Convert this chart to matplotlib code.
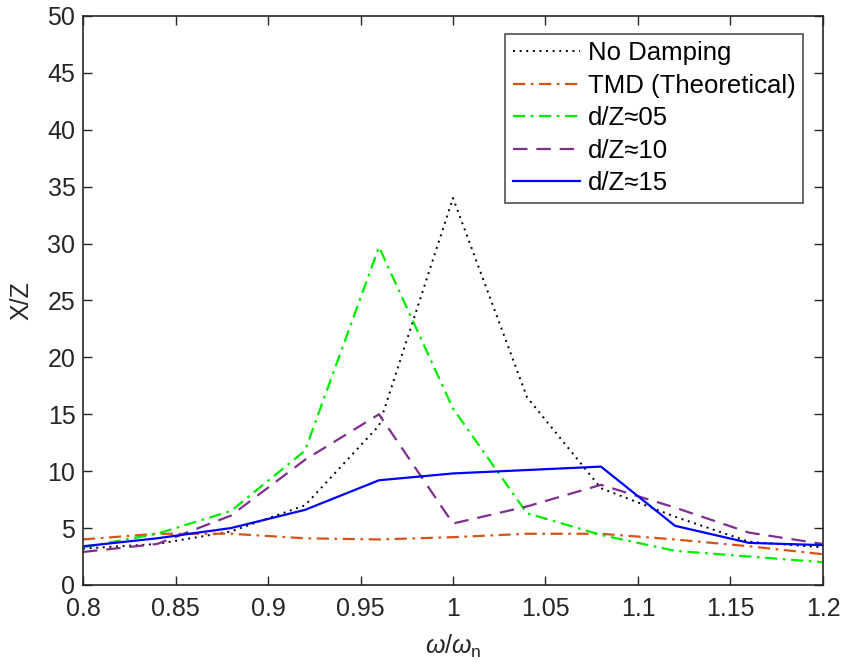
import numpy as np
import matplotlib
matplotlib.use("Agg")
import matplotlib.pyplot as plt

plt.rcParams['font.family'] = ['Liberation Sans', 'DejaVu Sans']
plt.rcParams['mathtext.fontset'] = 'custom'
plt.rcParams['mathtext.it'] = 'Liberation Sans:italic'
plt.rcParams['mathtext.rm'] = 'Liberation Sans'

# frequency ratio w/wn
razao = [0.80, 0.84, 0.88, 0.92, 0.96, 1.00, 1.04, 1.08, 1.12, 1.16, 1.20]

# amplitude ratio X/Z for each case
sem_amortecimento = [3.2, 3.6, 4.7, 7.0, 14.0, 34.0, 16.5, 8.5, 6.0, 3.8, 3.3]
tmd_teorico = [4.0, 4.5, 4.5, 4.1, 4.0, 4.2, 4.5, 4.5, 4.0, 3.4, 2.7]
dz_05 = [3.3, 4.5, 6.5, 11.8, 29.7, 15.5, 6.3, 4.4, 3.0, 2.5, 2.0]
dz_10 = [2.9, 3.6, 6.1, 11.0, 15.0, 5.4, 6.9, 8.8, 6.8, 4.6, 3.6]
dz_15 = [3.4, 4.1, 5.0, 6.6, 9.2, 9.8, 10.1, 10.4, 5.2, 3.7, 3.5]

cinza = '#262626'
fs = 18

fig = plt.figure(figsize=(8.42, 6.68), dpi=100)
ax = fig.add_axes([0.0986, 0.1243, 0.8788, 0.8518])

ax.plot(razao, sem_amortecimento, color='black', linestyle=(0, (1, 2.4)), lw=1.4,
        label='No Damping')
ax.plot(razao, tmd_teorico, color='#D95319', linestyle=(0, (5.5, 2.5, 1.2, 2.5)), lw=1.6,
        label='TMD (Theoretical)')
ax.plot(razao, dz_05, color='#00EE00', linestyle=(0, (5.5, 2.5, 1.2, 2.5)), lw=1.6,
        label='d/Z≈05')
ax.plot(razao, dz_10, color='#7E2F8E', linestyle=(0, (6.5, 4)), lw=1.6,
        label='d/Z≈10')
ax.plot(razao, dz_15, color='#0000FF', linestyle='-', lw=1.6,
        label='d/Z≈15')

ax.set_xlim(0.8, 1.2)
ax.set_ylim(0, 50)
ax.set_xticks(np.arange(0.8, 1.2001, 0.05))
ax.set_xticklabels(['0.8', '0.85', '0.9', '0.95', '1', '1.05', '1.1', '1.15', '1.2'])
ax.set_yticks(np.arange(0, 51, 5))

ax.tick_params(direction='in', length=6.5, width=1.0, labelsize=fs, color=cinza,
               top=True, right=True, labelcolor=cinza)
ax.tick_params(axis='x', pad=8.5)
ax.tick_params(axis='y', pad=5.5)
for s in ax.spines.values():
    s.set_linewidth(1.2)
    s.set_color(cinza)

ax.set_xlabel(r'$\omega/\omega_\mathrm{n}$', fontsize=fs, color=cinza, labelpad=9)
ax.set_ylabel('X/Z', fontsize=fs, color=cinza, labelpad=10)

leg = ax.legend(loc='upper right', bbox_to_anchor=(0.973, 0.969), fontsize=18.5,
                frameon=True, fancybox=False, edgecolor=cinza, handlelength=2.6,
                handletextpad=0.3, labelspacing=0.33, borderpad=0.3, borderaxespad=0)
leg.get_frame().set_linewidth(1.2)
for t in leg.get_texts():
    t.set_color('black')

fig.savefig('out.png', dpi=100)
